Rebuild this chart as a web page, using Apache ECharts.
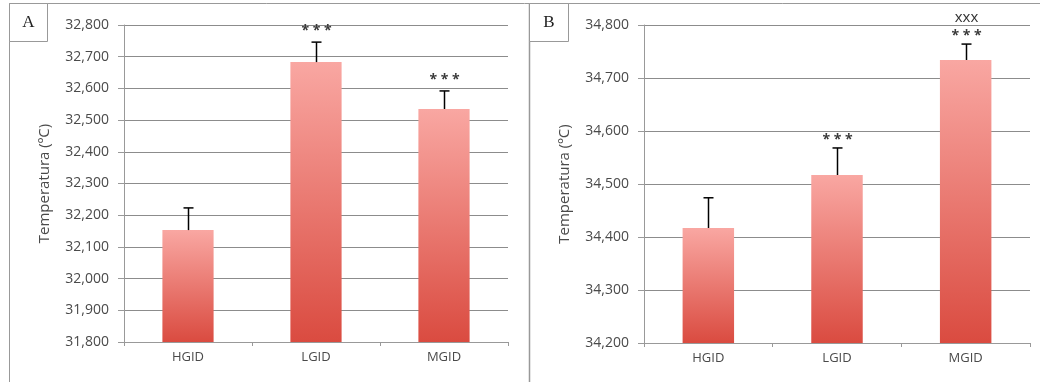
<!DOCTYPE html>
<html><head><meta charset="utf-8">
<script src="https://cdn.jsdelivr.net/npm/echarts@6/dist/echarts.min.js"></script>
<style>html,body{margin:0;padding:0;background:#fff}#c{width:1040px;height:382px}</style>
</head><body><div id="c"></div>
<script>
const categories = ['HGID', 'LGID', 'MGID'];
const valuesA = [32153, 32683, 32535];
const errorsA = [70, 63, 57];
const starsA = ['', '* * *', '* * *'];
const extraA = ['', '', ''];
const valuesB = [34417, 34517, 34734];
const errorsB = [57, 51, 30];
const starsB = ['', '* * *', '* * *'];
const extraB = ['', '', 'xxx'];
const yTicksA = {min: 31800, max: 32800, interval: 100};
const yTicksB = {min: 34200, max: 34800, interval: 100};
const panelLabels = ['A', 'B'];
const axisTitle = 'Temperatura (ºC)';

const chart = echarts.init(document.getElementById('c'), null, {renderer: 'canvas'});
const font = "'Open Sans', sans-serif";
const gray = '#999';
const labelColor = '#4a4a4a';

function barGradient() {
  return new echarts.graphic.LinearGradient(0, 0, 0, 1, [
    {offset: 0, color: '#f9a7a2'},
    {offset: 1, color: '#da4b40'}
  ]);
}
function xAxis(gi) {
  return {
    type: 'category', gridIndex: gi, data: categories,
    axisLine: {lineStyle: {color: gray}},
    axisTick: {show: true, length: 4, lineStyle: {color: gray}},
    axisLabel: {color: labelColor, fontFamily: font, fontSize: 13, margin: 9}
  };
}
function yAxis(gi, t, gap) {
  return {
    type: 'value', gridIndex: gi, min: t.min, max: t.max, interval: t.interval,
    name: axisTitle, nameLocation: 'middle', nameGap: gap,
    nameTextStyle: {color: labelColor, fontFamily: font, fontSize: 15},
    axisLine: {show: true, lineStyle: {color: gray}},
    axisTick: {show: true, length: 6, lineStyle: {color: gray}},
    axisLabel: {color: labelColor, fontFamily: font, fontSize: 14, margin: 15,
      formatter: v => v.toLocaleString('en-US')},
    splitLine: {lineStyle: {color: '#8c8c8c'}}
  };
}
function errSeries(gi, vals, errs, stars, extra, starOff, extraGap) {
  return {
    type: 'custom', xAxisIndex: gi, yAxisIndex: gi, z: 5,
    data: vals.map((v, i) => [i, v, v + errs[i]]),
    renderItem: function (params, api) {
      const i = params.dataIndex;
      const base = api.coord([api.value(0), api.value(1)]);
      const top = api.coord([api.value(0), api.value(2)]);
      const x = Math.round(base[0]) + 0.5;
      const children = [
        {type: 'line', shape: {x1: x, y1: base[1], x2: x, y2: top[1]}, style: {stroke: '#000', lineWidth: 1.5}},
        {type: 'line', shape: {x1: x - 5, y1: top[1], x2: x + 5, y2: top[1]}, style: {stroke: '#000', lineWidth: 1.5}}
      ];
      if (stars[i]) children.push({type: 'text', x: x, y: top[1] - starOff,
        style: {text: stars[i], fill: '#3a3a3a', font: 'bold 14px ' + font, align: 'center', verticalAlign: 'middle'}});
      if (extra[i]) children.push({type: 'text', x: x, y: top[1] - starOff - extraGap,
        style: {text: extra[i], fill: '#333', font: '15px ' + font, align: 'center', verticalAlign: 'middle'}});
      return {type: 'group', children: children};
    }
  };
}

const option = {
  animation: false,
  backgroundColor: '#fff',
  grid: [
    {left: 124, top: 25, width: 384, height: 317},
    {left: 644, top: 25, width: 386, height: 318}
  ],
  xAxis: [xAxis(0), xAxis(1)],
  yAxis: [yAxis(0, yTicksA, 72), yAxis(1, yTicksB, 72)],
  series: [
    {type: 'bar', xAxisIndex: 0, yAxisIndex: 0, data: valuesA, barWidth: '40%',
      itemStyle: {color: barGradient()}},
    {type: 'bar', xAxisIndex: 1, yAxisIndex: 1, data: valuesB, barWidth: '40%',
      itemStyle: {color: barGradient()}},
    errSeries(0, valuesA, errorsA, starsA, extraA, 11, 15),
    errSeries(1, valuesB, errorsB, starsB, extraB, 8, 18)
  ],
  graphic: [
    {type: 'line', shape: {x1: 9, y1: 3.5, x2: 1040, y2: 3.5}, style: {stroke: gray, lineWidth: 1}},
    {type: 'line', shape: {x1: 9.5, y1: 3, x2: 9.5, y2: 382}, style: {stroke: gray, lineWidth: 1}},
    {type: 'line', shape: {x1: 529.5, y1: 3, x2: 529.5, y2: 382}, style: {stroke: gray, lineWidth: 1.5}},
    {type: 'rect', shape: {x: 9.5, y: 3.5, width: 38, height: 38}, style: {fill: '#fff', stroke: gray, lineWidth: 1}},
    {type: 'rect', shape: {x: 529.5, y: 3.5, width: 39, height: 38}, style: {fill: '#fff', stroke: gray, lineWidth: 1}},
    {type: 'text', x: 28.5, y: 23, style: {text: panelLabels[0], font: "17px 'Liberation Serif', serif", fill: '#222', align: 'center', verticalAlign: 'middle'}},
    {type: 'text', x: 549, y: 23, style: {text: panelLabels[1], font: "17px 'Liberation Serif', serif", fill: '#222', align: 'center', verticalAlign: 'middle'}}
  ]
};
chart.setOption(option);
</script></body></html>
